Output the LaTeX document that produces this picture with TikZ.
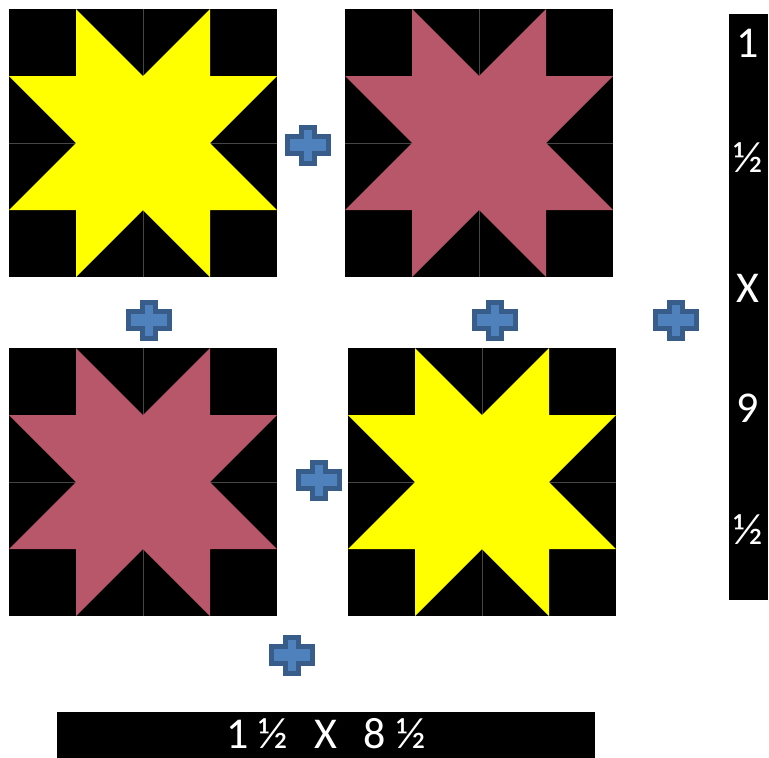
\documentclass[tikz,border=0pt]{standalone}
\usepackage{fontspec}
\setmainfont{Carlito}
\usepackage{tikz}
\usetikzlibrary{positioning}
\definecolor{qyellow}{RGB}{255,255,0}
\definecolor{qrose}{RGB}{185,87,106}
\definecolor{qgrid}{RGB}{70,70,70}
\definecolor{qplusin}{RGB}{79,129,189}
\definecolor{qplusout}{RGB}{56,93,138}

\tikzset{
  starblock/.pic={
    \fill[black] (0,0) rectangle (268,268);
    \draw[qgrid,line width=0.8] (134,0) -- (134,268) (0,134) -- (268,134);
    \fill[pic actions] (67,0) -- (134,67) -- (201,0) -- (201,67) -- (268,67)
      -- (201,134) -- (268,201) -- (201,201) -- (201,268) -- (134,201)
      -- (67,268) -- (67,201) -- (0,201) -- (67,134) -- (0,67) -- (67,67) -- cycle;
  },
  plussign/.pic={
    \filldraw[fill=qplusin,draw=qplusout,line width=5,miter limit=4]
      (-6.5,-18) -- (6.5,-18) -- (6.5,-8.5) -- (20.5,-8.5) -- (20.5,8.5) -- (6.5,8.5)
      -- (6.5,18) -- (-6.5,18) -- (-6.5,8.5) -- (-20.5,8.5) -- (-20.5,-8.5) -- (-6.5,-8.5) -- cycle;
  },
  sizebar/.style={fill=black,inner sep=0pt,outer sep=0pt},
  sizetext/.style={text=white,inner sep=0pt,font=\fontsize{44}{44}\selectfont}
}

\begin{document}
\begin{tikzpicture}[x=1pt,y=-1pt]
  \useasboundingbox (0,0) rectangle (769,758);
  % star blocks
  \pic[fill=qyellow] at (9,9)   {starblock};
  \pic[fill=qrose]   at (345,9) {starblock};
  \pic[fill=qrose]   at (9,348) {starblock};
  \pic[fill=qyellow] at (348,348) {starblock};
  % plus signs
  \pic at (308,145) {plussign};
  \pic at (149,320) {plussign};
  \pic at (495,320) {plussign};
  \pic at (676,320) {plussign};
  \pic at (319,480) {plussign};
  \pic at (292,655) {plussign};
  % size bars
  \node[sizebar,minimum width=39,minimum height=586] (vbar) at (748.5,307) {};
  \node[sizebar,minimum width=538,minimum height=46] (hbar) at (326,734.5) {};
  \node[sizetext] (v1) at (748,43)  {1};
  \node[sizetext] (v2) at (748,158) {½};
  \node[sizetext] (v3) at (748,288) {X};
  \node[sizetext] (v4) at (748,408) {9};
  \node[sizetext] (v5) at (748,530) {½};
  \node[sizetext] (htext) at (326,734) {1 ½\hspace{0.6em}X\hspace{0.6em}8 ½};
\end{tikzpicture}
\end{document}
